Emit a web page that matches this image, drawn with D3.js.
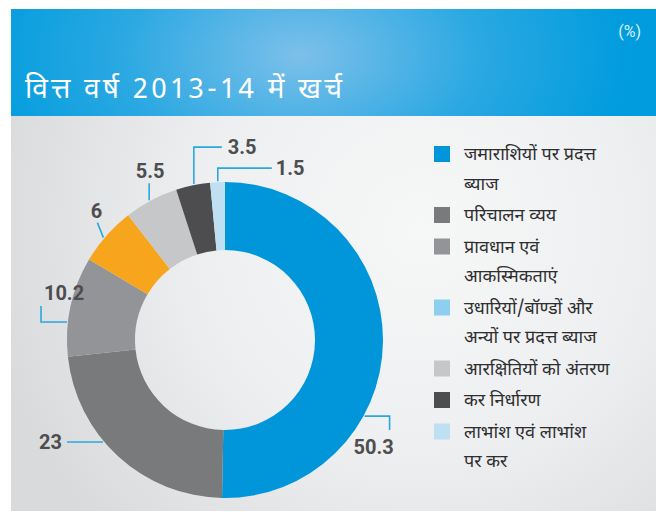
<!DOCTYPE html>
<html>
<head>
<meta charset="utf-8">
<script src="https://cdn.jsdelivr.net/npm/d3@7"></script>
<style>
  body { margin: 0; background: #fff; }
  svg { display: block; }
  .val { font-family: Roboto, "DejaVu Sans", sans-serif; font-weight: 700; font-size: 20px; fill: #4d4d4f; }
  .leg { font-family: "Noto Sans Devanagari", "Noto Serif Devanagari", "Lohit Devanagari", "Noto Sans", sans-serif; font-size: 18px; fill: #2e2e30; }
</style>
</head>
<body>
<svg width="656" height="512"></svg>
<script>
var title = "वित्त वर्ष 2013-14 में खर्च";
var unit = "(%)";
var values = [50.3, 23, 10.2, 6, 5.5, 3.5, 1.5];
var sliceColors = ["#0096d9", "#797a7c", "#929497", "#f7a51d", "#c6c7c9", "#4d4d4f", "#bfe0f3"];
var legendLines = [
  ["जमाराशियों पर प्रदत्त", "ब्याज"],
  ["परिचालन व्यय"],
  ["प्रावधान एवं", "आकस्मिकताएं"],
  ["उधारियों/बॉण्डों और", "अन्यों पर प्रदत्त ब्याज"],
  ["आरक्षितियों को अंतरण"],
  ["कर निर्धारण"],
  ["लाभांश एवं लाभांश", "पर कर"]
];
var legendColors = ["#0096d9", "#797a7c", "#929497", "#8ccff0", "#c6c7c9", "#4d4d4f", "#bfe0f3"];

// where each leader touches the ring (degrees, clockwise from top) and how it bends
var leaders = [
  { ang: 118.6, pts: [[25, 0], [25, 14]], tx: 9, ty: 38, anchor: "middle" },
  { ang: 230.1, pts: [[-36, 0]], tx: -41, ty: 7, anchor: "end" },
  { ang: 276.5, pts: [[-26, 0], [-26, -16]], tx: -3, ty: -22, anchor: "middle" },
  { ang: 310.1, pts: [[-6, -15]], tx: -7, ty: -20, anchor: "middle" },
  { ang: 331.5, pts: [[0, -17]], tx: 1, ty: -22, anchor: "middle" },
  { ang: 348.7, pts: [[0, -37], [28, -37]], tx: 34, ty: -30, anchor: "start" },
  { ang: 357.4, pts: [[0, -13], [54, -13]], tx: 58, ty: -6, anchor: "start" }
];

var svg = d3.select("svg");
var defs = svg.append("defs");

var hg = defs.append("radialGradient").attr("id", "hdr")
  .attr("gradientUnits", "userSpaceOnUse")
  .attr("cx", 300).attr("cy", 55).attr("r", 330)
  .attr("gradientTransform", "translate(300,55) scale(1,0.6) translate(-300,-55)");
hg.append("stop").attr("offset", 0).attr("stop-color", "#7cc0ea");
hg.append("stop").attr("offset", 0.55).attr("stop-color", "#2aa8e2");
hg.append("stop").attr("offset", 1).attr("stop-color", "#009cde");

var pg = defs.append("radialGradient").attr("id", "pnl")
  .attr("gradientUnits", "userSpaceOnUse")
  .attr("cx", 420).attr("cy", 230).attr("r", 440);
pg.append("stop").attr("offset", 0).attr("stop-color", "#f6f7f7");
pg.append("stop").attr("offset", 0.5).attr("stop-color", "#eeeff0");
pg.append("stop").attr("offset", 1).attr("stop-color", "#d9dadc");

svg.append("rect").attr("x", 11).attr("y", 9).attr("width", 645).attr("height", 107).attr("fill", "url(#hdr)");
svg.append("rect").attr("x", 11).attr("y", 116).attr("width", 645).attr("height", 395).attr("fill", "url(#pnl)");

svg.append("text").attr("x", 641).attr("y", 37).attr("text-anchor", "end")
  .style("font-family", "Roboto, sans-serif").style("font-size", "16px").attr("fill", "#dcf0fb")
  .text(unit);

svg.append("text").attr("x", 25).attr("y", 98)
  .style("font-family", "'Noto Sans Devanagari', 'Noto Sans', sans-serif").style("font-size", "28px")
  .style("letter-spacing", "3.2px").attr("fill", "#fff")
  .text(title);

// donut
var cx = 225, cy = 340, rOut = 158, rIn = 90;
var g = svg.append("g").attr("transform", "translate(" + cx + "," + cy + ")");
var pie = d3.pie().sort(null).value(function(d) { return d; });
var arc = d3.arc().innerRadius(rIn).outerRadius(rOut);
var arcs = pie(values);

g.selectAll("path.slice").data(arcs).enter().append("path")
  .attr("class", "slice")
  .attr("d", arc)
  .attr("fill", function(d, i) { return sliceColors[i]; });

// leaders + values
arcs.forEach(function(d, i) {
  var L = leaders[i];
  var a = L.ang * Math.PI / 180;
  var x0 = Math.sin(a) * (rOut + 1), y0 = -Math.cos(a) * (rOut + 1);
  var pts = [[x0, y0]].concat(L.pts.map(function(p) { return [x0 + p[0], y0 + p[1]]; }));
  g.append("path")
    .attr("d", d3.line()(pts))
    .attr("fill", "none")
    .attr("stroke", "#2aa7e0")
    .attr("stroke-width", 1.6);
  g.append("text").attr("class", "val")
    .attr("x", x0 + L.tx)
    .attr("y", y0 + L.ty)
    .attr("text-anchor", L.anchor)
    .text(d3.format("")(d.data));
});

// legend
var lx = 434, ly = 146, lineH = 29.5, gap = 2;
var y = ly;
legendLines.forEach(function(lines, i) {
  svg.append("rect").attr("x", lx).attr("y", y).attr("width", 16).attr("height", 16)
    .attr("fill", legendColors[i]);
  lines.forEach(function(t, j) {
    svg.append("text").attr("class", "leg")
      .attr("x", lx + 30).attr("y", y + 14 + j * lineH)
      .text(t);
  });
  y += lines.length * lineH + gap;
});
</script>
</body>
</html>
